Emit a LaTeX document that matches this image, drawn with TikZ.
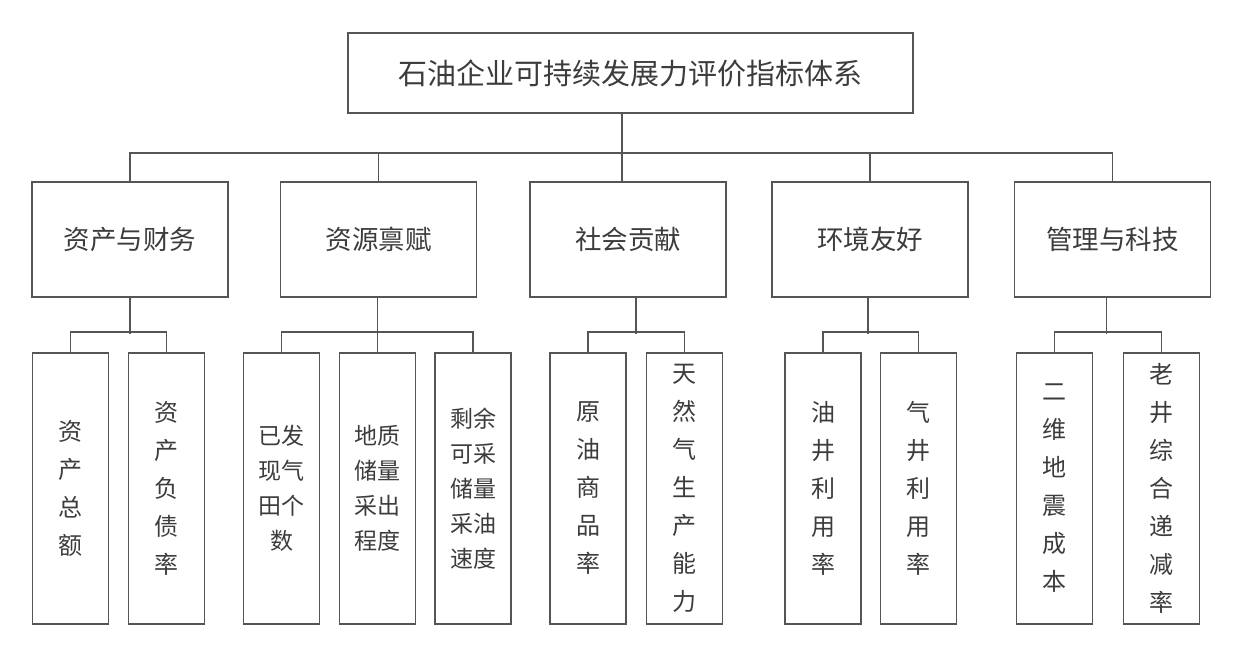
\documentclass[tikz,border=0pt]{standalone}
\usepackage{fontspec}
\newfontfamily\cjk{Noto Sans CJK SC}
\usetikzlibrary{positioning}
\definecolor{lineGray}{HTML}{555555}
\definecolor{textGray}{HTML}{3C3C3C}

\begin{document}
\begin{tikzpicture}[x=1pt, y=-1pt,
    tbox/.style={rectangle, draw=lineGray, line width=1.8pt, minimum width=565pt, minimum height=80pt,
      inner sep=0pt, text=textGray, font=\cjk\fontsize{29}{31}\selectfont},
    cbox/.style={rectangle, draw=lineGray, line width=1.8pt, minimum width=196pt, minimum height=115pt,
      inner sep=0pt, text=textGray, font=\cjk\fontsize{26.5}{28}\selectfont},
    lbox/.style={rectangle, draw=lineGray, line width=1.8pt, minimum width=76pt, minimum height=271pt,
      inner sep=0pt, align=center, text=textGray, font=\cjk\fontsize{24}{38}\selectfont},
    lbox2/.style={lbox, font=\cjk\fontsize{23}{35}\selectfont},
    ln/.style={draw=lineGray, line width=1.8pt}
  ]
  \useasboundingbox (0,0) rectangle (1251,649);

  % top
  \node[tbox] (top) at (630.5,73) {石油企业可持续发展力评价指标体系};

  % criteria
  \node[cbox] (fin) at (130,239.5) {资产与财务};
  \node[cbox] (res) at (378.5,239.5) {资源禀赋};
  \node[cbox] (soc) at (628,239.5) {社会贡献};
  \node[cbox] (env) at (870,239.5) {环境友好};
  \node[cbox] (mgt) at (1112.5,239.5) {管理与科技};

  % indicators
  \node[lbox] (fin1) at (70.5,488.5) {资\\产\\总\\额};
  \node[lbox] (fin2) at (166.5,488.5) {资\\产\\负\\债\\率};
  \node[lbox2] (res1) at (281.5,488.5) {已发\\现气\\田个\\数};
  \node[lbox2] (res2) at (377.5,488.5) {地质\\储量\\采出\\程度};
  \node[lbox2] (res3) at (473,488.5) {剩余\\可采\\储量\\采油\\速度};
  \node[lbox] (soc1) at (588,488.5) {原\\油\\商\\品\\率};
  \node[lbox] (soc2) at (684.5,488.5) {天\\然\\气\\生\\产\\能\\力};
  \node[lbox] (env1) at (823,488.5) {油\\井\\利\\用\\率};
  \node[lbox] (env2) at (918.5,488.5) {气\\井\\利\\用\\率};
  \node[lbox] (mgt1) at (1054.5,488.5) {二\\维\\地\\震\\成\\本};
  \node[lbox] (mgt2) at (1161.5,488.5) {老\\井\\综\\合\\递\\减\\率};

  % top level links
  \coordinate (hub) at (622,153);
  \draw[ln] (top.south -| hub) -- (soc.north -| hub);
  \draw[ln] (fin.north) |- (hub) -| (mgt.north);
  \draw[ln] (res.north) -- (res.north |- hub);
  \draw[ln] (env.north) -- (env.north |- hub);

  % indicator links
  \draw[ln] (fin1.north) -- ++(0,-20) -| (fin2.north);
  \draw[ln] (fin.south) -- ++(0,36);
  \draw[ln] (res1.north) -- ++(0,-20) -| (res3.north);
  \draw[ln] (res2.north |- res.south) -- (res2.north);
  \draw[ln] (soc1.north) -- ++(0,-20) -| (soc2.north);
  \draw[ln] ([xshift=8pt]soc.south) -- ++(0,36);
  \draw[ln] (env1.north) -- ++(0,-20) -| (env2.north);
  \draw[ln] ([xshift=-2pt]env.south) -- ++(0,36);
  \draw[ln] (mgt1.north) -- ++(0,-20) -| (mgt2.north);
  \draw[ln] ([xshift=-6pt]mgt.south) -- ++(0,36);
\end{tikzpicture}
\end{document}
